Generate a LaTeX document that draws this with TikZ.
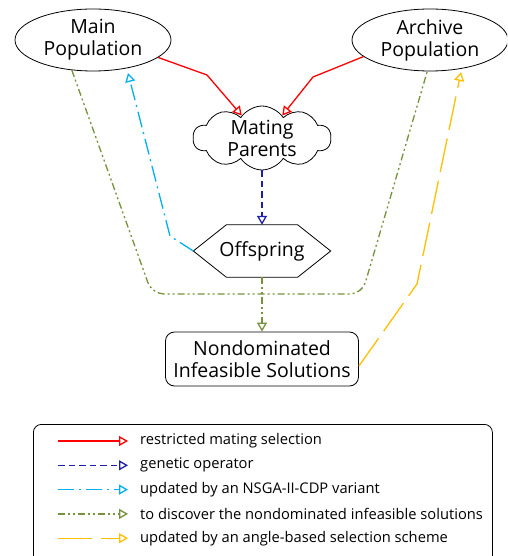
\documentclass[tikz,border=0pt]{standalone}
\usepackage{fontspec}
\setmainfont{Open Sans}
\usetikzlibrary{arrows.meta,shapes.geometric,shapes.symbols,calc}
\definecolor{cred}{RGB}{255,0,0}
\definecolor{cblue}{RGB}{30,30,170}
\definecolor{ccyan}{RGB}{0,176,240}
\definecolor{colive}{RGB}{118,146,60}
\definecolor{cyel}{RGB}{255,192,0}
\begin{document}
\begin{tikzpicture}[x=1pt,y=-1pt,
  bigtext/.style={font=\fontsize{19.5}{22}\selectfont, align=center},
  popnode/.style={ellipse, draw=black, line width=0.8pt, minimum width=156pt, minimum height=62pt, inner sep=0pt, bigtext},
  tip/.style={-{Triangle[open,length=9pt,width=10pt]}},
  lk/.style={line width=1.3pt, tip},
  redline/.style={lk, draw=cred},
  blueline/.style={lk, draw=cblue, dash pattern=on 6.5pt off 4pt},
  olivepat/.style={draw=colive, dash pattern=on 7pt off 3pt on 2pt off 3pt on 2pt off 3pt},
  cyanline/.style={lk, draw=ccyan, dash pattern=on 16pt off 5pt on 2pt off 5pt},
  oliveline/.style={lk, olivepat},
  yelline/.style={lk, draw=cyel, dash pattern=on 34pt off 9pt},
  legtext/.style={font=\fontsize{14.7}{17}\selectfont, anchor=west, inner sep=0pt}
]
\clip (0,0) rectangle (507,556);
\fill[white] (0,0) rectangle (507,556);

% nodes
\node[popnode] (main) at (93,40) {Main\\Population};
\node[popnode] (arch) at (430,40) {Archive\\Population};
\node[cloud, draw=black, line width=0.8pt, cloud puffs=10, cloud puff arc=115, aspect=2.1,
      minimum width=138pt, minimum height=64pt, inner sep=-3pt, bigtext] (mate) at (262,138) {Mating\\Parents};
\node[minimum width=137pt, minimum height=52pt, inner sep=0pt, bigtext] (off) at (262,251) {Offspring};
\draw[line width=0.8pt] (off.west) -- ([xshift=33pt]off.north west) -- ([xshift=-33pt]off.north east)
  -- (off.east) -- ([xshift=-33pt]off.south east) -- ([xshift=33pt]off.south west) -- cycle;
\node[rectangle, rounded corners=9pt, draw=black, line width=0.8pt, minimum width=193pt, minimum height=54pt,
      inner sep=0pt, bigtext] (nis) at (262,359) {Nondominated\\Infeasible Solutions};

% helper coordinates
\coordinate (rb1) at (207,75);
\coordinate (rb2) at (313,77);
\coordinate (cb) at (170,236);
\coordinate (ctip) at (128,73);
\coordinate (ol) at (152,294);
\coordinate (or) at (362,294);
\coordinate (yb) at (417,284);
\coordinate (ytip) at (461,72);

% connectors
\draw[redline] (main.-15) -- (rb1) -- (mate.132);
\draw[redline] (arch.194) -- (rb2) -- (mate.48);
\draw[blueline] (mate.south) -- (off.north);
\draw[cyanline] (off.west) -- (cb) -- (ctip);
\draw[line width=1.3pt, olivepat, rounded corners=12pt]
  (main.-125) -- (ol) -- (or) -- (arch.-95);
\draw[oliveline] (off.south) -- (nis.north);
\draw[yelline] ([yshift=-7pt]nis.east) -- (yb) -- (ytip);

% legend
\node[draw=black, line width=0.8pt, rounded corners=8pt, minimum width=459pt, minimum height=150pt,
      inner sep=0pt, anchor=north west] (leg) at (33,424) {};
\foreach \i/\sty/\txt in {0/redline/restricted mating selection,
  1/blueline/genetic operator,
  2/cyanline/updated by an NSGA-II-CDP variant,
  3/oliveline/to discover the nondominated infeasible solutions,
  4/yelline/updated by an angle-based selection scheme}{
  \coordinate (ls\i) at (58,441+24.3*\i);
  \coordinate (le\i) at (128,441+24.3*\i);
  \draw[\sty] (ls\i) -- (le\i);
  \node[legtext] (lt\i) at (140,441+24.3*\i) {\txt};
}
\end{tikzpicture}
\end{document}
